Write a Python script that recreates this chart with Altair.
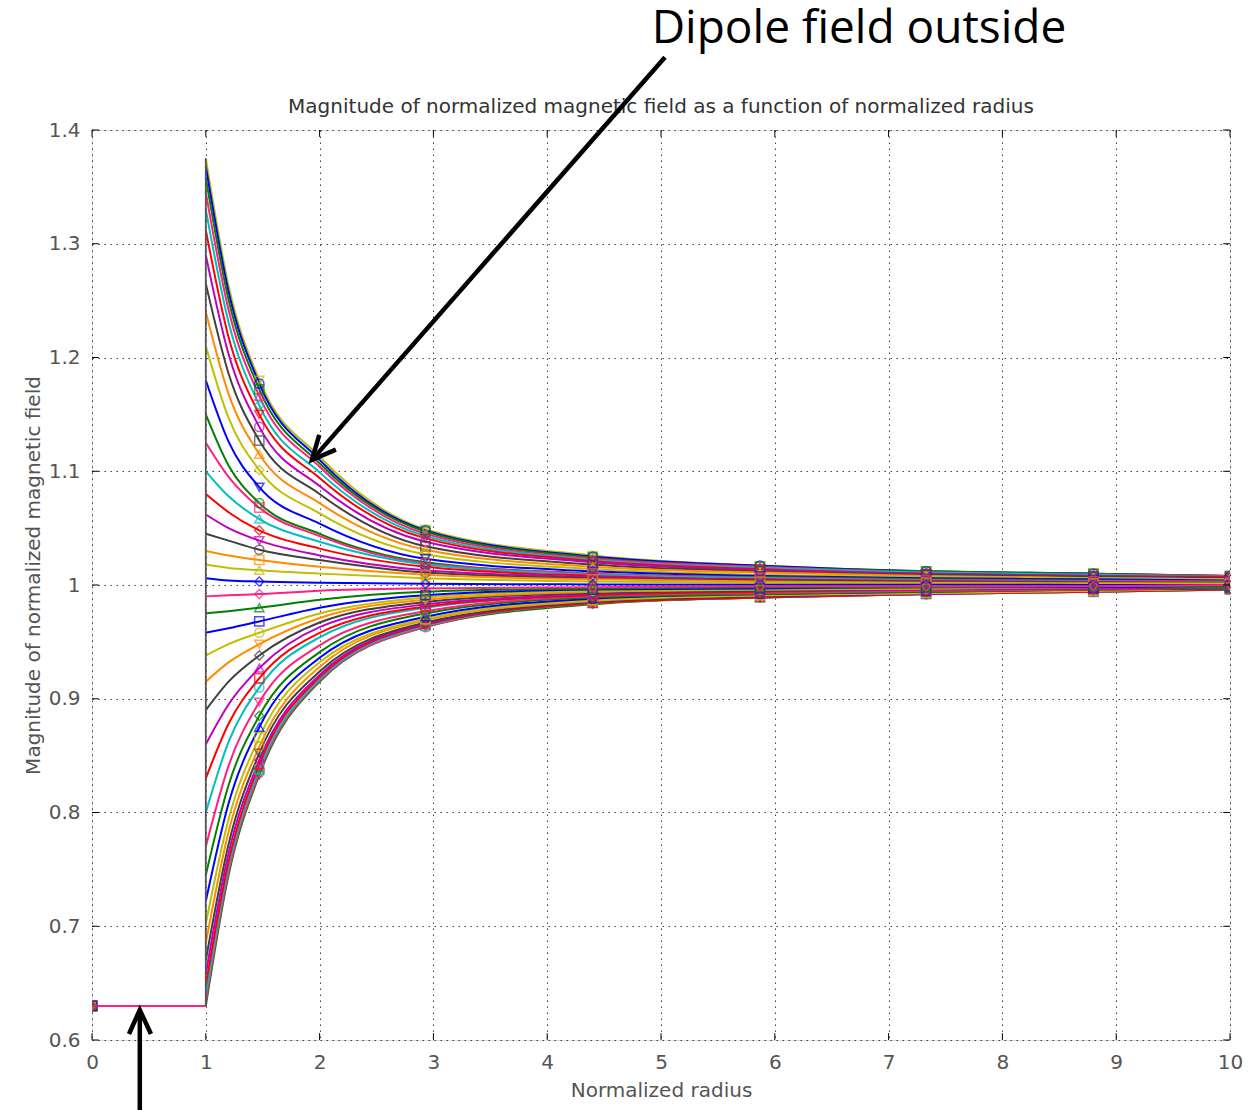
import altair as alt
import pandas as pd

# ---------------- data ----------------
X_TICKS = list(range(0, 11))
Y_TICKS = [0.6, 0.7, 0.8, 0.9, 1.0, 1.1, 1.2, 1.3, 1.4]

R_OUT = [1.0, 1.2, 1.47, 2.0, 2.93, 4.4, 5.87, 7.33, 8.8, 10.0]
MARKER_IDX = [2, 4, 5, 6, 7, 8, 9]
R_INSIDE = [0.0, 1.0]
B_INSIDE = 0.63

TOP = [
    [1.375, 1.263, 1.180, 1.113, 1.049, 1.026, 1.017, 1.012, 1.010, 1.008],
    [1.368, 1.258, 1.177, 1.110, 1.048, 1.025, 1.017, 1.012, 1.010, 1.008],
    [1.358, 1.251, 1.172, 1.107, 1.047, 1.024, 1.016, 1.012, 1.010, 1.008],
    [1.345, 1.242, 1.166, 1.104, 1.045, 1.023, 1.016, 1.011, 1.009, 1.008],
    [1.330, 1.231, 1.158, 1.099, 1.043, 1.022, 1.015, 1.011, 1.009, 1.007],
    [1.312, 1.218, 1.150, 1.094, 1.041, 1.021, 1.014, 1.010, 1.008, 1.007],
    [1.290, 1.203, 1.139, 1.087, 1.038, 1.020, 1.013, 1.010, 1.008, 1.006],
    [1.265, 1.186, 1.127, 1.080, 1.034, 1.018, 1.012, 1.009, 1.007, 1.006],
    [1.240, 1.168, 1.115, 1.072, 1.031, 1.016, 1.011, 1.008, 1.006, 1.005],
    [1.210, 1.147, 1.101, 1.063, 1.027, 1.014, 1.009, 1.007, 1.006, 1.005],
    [1.180, 1.126, 1.086, 1.054, 1.023, 1.012, 1.008, 1.006, 1.005, 1.004],
    [1.150, 1.105, 1.072, 1.045, 1.020, 1.010, 1.007, 1.005, 1.004, 1.003],
    [1.125, 1.095, 1.068, 1.043, 1.019, 1.010, 1.0065, 1.0045, 1.0035, 1.003],
    [1.100, 1.078, 1.058, 1.038, 1.018, 1.009, 1.006, 1.004, 1.003, 1.0025],
    [1.080, 1.064, 1.048, 1.032, 1.016, 1.008, 1.005, 1.0035, 1.0027, 1.002],
    [1.062, 1.050, 1.039, 1.026, 1.013, 1.007, 1.0045, 1.003, 1.0024, 1.002],
    [1.045, 1.039, 1.031, 1.022, 1.011, 1.006, 1.004, 1.0027, 1.002, 1.0016],
    [1.030, 1.026, 1.022, 1.016, 1.009, 1.005, 1.003, 1.002, 1.0015, 1.0012],
    [1.018, 1.015, 1.013, 1.010, 1.006, 1.003, 1.002, 1.0015, 1.001, 1.001],
    [1.006, 1.004, 1.003, 1.002, 1.001, 1.0005, 1.0003, 1.0002, 1.0001, 1.0001],
]

BOTTOM = [
    [0.630, 0.745, 0.833, 0.915, 0.963, 0.983, 0.989, 0.992, 0.994, 0.996],
    [0.634, 0.748, 0.835, 0.916, 0.963, 0.984, 0.989, 0.992, 0.994, 0.996],
    [0.640, 0.752, 0.838, 0.917, 0.964, 0.984, 0.989, 0.992, 0.994, 0.996],
    [0.648, 0.757, 0.842, 0.919, 0.965, 0.984, 0.989, 0.992, 0.994, 0.996],
    [0.658, 0.764, 0.846, 0.921, 0.966, 0.985, 0.990, 0.992, 0.995, 0.997],
    [0.670, 0.772, 0.852, 0.924, 0.967, 0.985, 0.990, 0.993, 0.995, 0.997],
    [0.685, 0.783, 0.858, 0.928, 0.969, 0.986, 0.991, 0.993, 0.995, 0.997],
    [0.702, 0.794, 0.866, 0.932, 0.970, 0.987, 0.991, 0.993, 0.995, 0.997],
    [0.722, 0.808, 0.875, 0.936, 0.972, 0.988, 0.992, 0.994, 0.996, 0.997],
    [0.745, 0.824, 0.885, 0.941, 0.975, 0.989, 0.992, 0.994, 0.996, 0.997],
    [0.770, 0.841, 0.897, 0.947, 0.977, 0.990, 0.993, 0.995, 0.996, 0.998],
    [0.800, 0.862, 0.910, 0.954, 0.980, 0.991, 0.994, 0.996, 0.997, 0.998],
    [0.830, 0.878, 0.918, 0.958, 0.981, 0.991, 0.994, 0.996, 0.997, 0.998],
    [0.860, 0.895, 0.927, 0.963, 0.983, 0.992, 0.995, 0.996, 0.997, 0.998],
    [0.890, 0.915, 0.938, 0.967, 0.985, 0.993, 0.995, 0.997, 0.998, 0.998],
    [0.915, 0.932, 0.948, 0.971, 0.987, 0.994, 0.996, 0.997, 0.998, 0.999],
    [0.938, 0.948, 0.958, 0.975, 0.989, 0.995, 0.996, 0.997, 0.998, 0.999],
    [0.958, 0.962, 0.968, 0.980, 0.991, 0.996, 0.997, 0.998, 0.998, 0.999],
    [0.975, 0.977, 0.980, 0.987, 0.994, 0.997, 0.998, 0.998, 0.999, 0.999],
    [0.990, 0.991, 0.992, 0.995, 0.997, 0.998, 0.999, 0.999, 0.999, 1.000],
]

CURVES = TOP + BOTTOM

TITLE = "Magnitude of normalized magnetic field as a function of normalized radius"
X_TITLE = "Normalized radius"
Y_TITLE = "Magnitude of normalized magnetic field"
NOTE = "Dipole field outside"

# annotation geometry, in data units
TITLE_POS = (5.0, 1.4205)
NOTE_POS = (6.74, 1.4765)
ARROW1_X = [5.035, 1.933]
ARROW1_Y = [1.464, 1.110]
HEAD1_X = [2.143, 1.933, 1.997]
HEAD1_Y = [1.119, 1.110, 1.132]
ARROW2_X = [0.42, 0.42]
ARROW2_Y = [0.5367, 0.6264]
HEAD2_X = [0.325, 0.42, 0.518]
HEAD2_Y = [0.6053, 0.6264, 0.6053]

# ---------------- styles ----------------
PALETTE = ["#bfbf00", "#0000ff", "#008000", "#ff2080", "#00bfbf",
           "#ff0000", "#bf00bf", "#404040", "#ff8c00"]
SHAPES = ["triangle-down", "circle", "square", "triangle-up", "diamond"]
AX_FONT = "DejaVu Sans"

rows_out, rows_in, rows_mk = [], [], []
for i, vals in enumerate(CURVES):
    col = PALETTE[i % len(PALETTE)]
    shp = SHAPES[i % len(SHAPES)]
    for r, b in zip(R_OUT, vals):
        rows_out.append(dict(line=i, x=r, y=b, color=col))
    for r in R_INSIDE:
        rows_in.append(dict(line=i, x=r, y=B_INSIDE, color=col))
    rows_mk.append(dict(line=i, x=R_INSIDE[0], y=B_INSIDE, color=col, shape=shp))
    for k in MARKER_IDX:
        rows_mk.append(dict(line=i, x=R_OUT[k], y=vals[k], color=col, shape=shp))

df_out = pd.DataFrame(rows_out)
df_in = pd.DataFrame(rows_in)
df_mk = pd.DataFrame(rows_mk)
df_jump = pd.DataFrame([dict(x=R_INSIDE[1], y=B_INSIDE, y2=max(v[0] for v in CURVES))])

xs = alt.Scale(domain=[0, 10], nice=False, zero=False)
ys = alt.Scale(domain=[0.6, 1.4], nice=False, zero=False)

x_axis = alt.Axis(values=X_TICKS, format="d", title=X_TITLE, grid=True,
                  gridDash=[1.5, 4.5], gridColor="#222", gridOpacity=0.85,
                  ticks=False, domain=False, labelFlush=False,
                  labelFont=AX_FONT, labelFontSize=20, labelColor="#555",
                  labelPadding=12, titleFont=AX_FONT, titleFontSize=20,
                  titleFontWeight="normal", titleColor="#555", titlePadding=8)
y_axis = alt.Axis(values=Y_TICKS, format="~g", title=Y_TITLE, grid=True,
                  gridDash=[1.5, 4.5], gridColor="#222", gridOpacity=0.85,
                  ticks=False, domain=False, labelFlush=False,
                  labelFont=AX_FONT, labelFontSize=20, labelColor="#555",
                  labelPadding=12, titleFont=AX_FONT, titleFontSize=20,
                  titleFontWeight="normal", titleColor="#555", titlePadding=5,
                  titleY=445)

X = alt.X("x:Q", scale=xs, axis=x_axis)
Y = alt.Y("y:Q", scale=ys, axis=y_axis)

outer = alt.Chart(df_out).mark_line(strokeWidth=2, clip=True,
                                    interpolate="monotone").encode(
    x=X, y=Y,
    color=alt.Color("color:N", scale=None),
    detail="line:N",
    order="x:Q",
)

inner = alt.Chart(df_in).mark_line(strokeWidth=2, clip=True).encode(
    x=X, y=Y,
    color=alt.Color("color:N", scale=None),
    detail="line:N",
)

jump = alt.Chart(df_jump).mark_rule(strokeWidth=1.8, color="#555").encode(
    x=X, y=Y, y2="y2:Q",
)

markers = alt.Chart(df_mk).mark_point(filled=False, size=85, strokeWidth=1.5,
                                      clip=True).encode(
    x=X, y=Y,
    color=alt.Color("color:N", scale=None),
    shape=alt.Shape("shape:N", scale=None),
)

# inward tick marks on all four sides
TICK_DX = 0.06
TICK_DY = 0.006
tick_rows = []
for t in X_TICKS:
    tick_rows.append(dict(x=t, x2=t, y=0.6, y2=0.6 + TICK_DY))
    tick_rows.append(dict(x=t, x2=t, y=1.4, y2=1.4 - TICK_DY))
for v in Y_TICKS:
    tick_rows.append(dict(x=0, x2=TICK_DX, y=v, y2=v))
    tick_rows.append(dict(x=10, x2=10 - TICK_DX, y=v, y2=v))
ticks = alt.Chart(pd.DataFrame(tick_rows)).mark_rule(color="#000", strokeWidth=1).encode(
    x=X, x2="x2:Q", y=Y, y2="y2:Q",
)

# titles / annotations
title = alt.Chart(pd.DataFrame([dict(x=TITLE_POS[0], y=TITLE_POS[1], t=TITLE)])).mark_text(
    font=AX_FONT, fontSize=20, color="#333", align="center", baseline="middle"
).encode(x=X, y=Y, text="t:N")

note = alt.Chart(pd.DataFrame([dict(x=NOTE_POS[0], y=NOTE_POS[1], t=NOTE)])).mark_text(
    font="Open Sans", fontSize=46, color="#000", align="center", baseline="alphabetic"
).encode(x=X, y=Y, text="t:N")


def polyline(xv, yv):
    d = pd.DataFrame(dict(x=xv, y=yv, o=list(range(len(xv)))))
    return alt.Chart(d).mark_line(color="#000", strokeWidth=4.5, strokeJoin="miter",
                                  strokeCap="butt").encode(
        x=X, y=Y, order="o:Q",
    )


arrows = (polyline(ARROW1_X, ARROW1_Y) + polyline(HEAD1_X, HEAD1_Y)
          + polyline(ARROW2_X, ARROW2_Y) + polyline(HEAD2_X, HEAD2_Y))

chart = alt.layer(outer, inner, jump, markers, ticks, title, note, arrows).properties(
    width=1138, height=910,
    autosize=alt.AutoSizeParams(type="none"),
    padding={"left": 92, "top": 130, "right": 26, "bottom": 70},
).configure_view(stroke="#000", strokeWidth=1.2).configure(background="white")

chart.save("out.html", embed_options={"renderer": "svg", "actions": False})
